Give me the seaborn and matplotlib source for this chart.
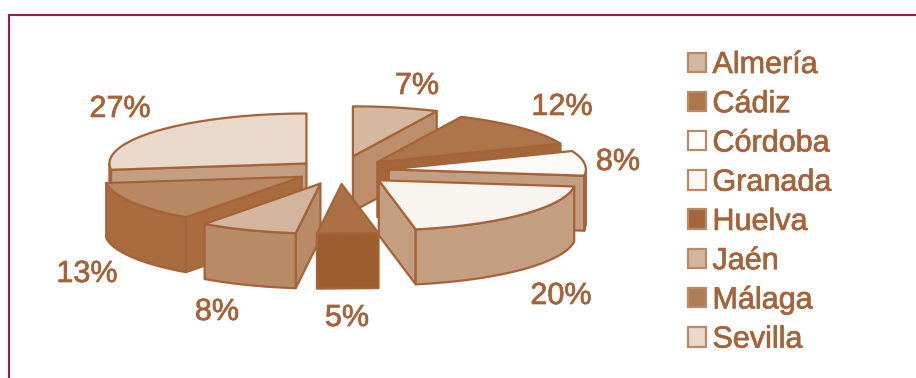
import numpy as np
import matplotlib
matplotlib.use("Agg")
import matplotlib.pyplot as plt
import matplotlib.patheffects as pe
from matplotlib.patches import Polygon, Patch
import seaborn as sns

# Share of each province, clockwise from twelve o'clock
provinces = ["Almería", "Cádiz", "Córdoba", "Granada", "Huelva", "Jaén", "Málaga", "Sevilla"]
shares = [7, 12, 8, 20, 5, 8, 13, 27]

explode = [0.3, 0.26, 0.25, 0.27, 0.26, 0.27, 0.226, 0.227]
top_colors = ["#D4B8A0", "#AD7549", "#FDFBF8", "#F8F4F0", "#AB7144", "#D3B59D", "#B88862", "#E8D9CB"]
side_colors = ["#BC8E6B", "#A5673A", "#C49E80", "#C49E80", "#9C5E2E", "#B88A66", "#A86C3E", "#C49E80"]
legend_colors = ["#D4B8A0", "#AD7549", "#FFFFFF", "#FBF8F5", "#A5673A", "#D3B59D", "#B07C55", "#E8D9CB"]

INK = "#A5633A"
FRAME = "#9A1B45"
FONT = "Liberation Sans"
FONT_SIZE = 22
CX, CY, RX, RY, DEPTH = 340, 171, 197, 50, 55

# Back-to-front painting order of the wedges
paint_order = [7, 0, 1, 2, 3, 6, 5, 4]
label_pos = [(417, 86), (562, 107), (618, 162), (561, 296), (347, 318), (217, 312), (87, 274), (120, 109)]


def rim(a0, a1, ox, oy):
    """Points on the projected circle between two clockwise angles in degrees."""
    # The narrowest wedge gets a straight front edge
    n = 2 if a1 - a0 <= 18.01 else 60
    t = np.radians(np.linspace(a0, a1, n))
    return np.column_stack([ox + RX * np.sin(t), oy - RY * np.cos(t)])


sns.set_theme(style="white")
plt.rcParams["font.family"] = [FONT, "DejaVu Sans"]

fig = plt.figure(figsize=(9.16, 3.78), dpi=100, facecolor="white")
ax = fig.add_axes([0, 0, 1, 1])
ax.set_xlim(0, 916)
ax.set_ylim(378, 0)
ax.axis("off")

# Thin frame on the top and left edges
ax.plot([8.5, 8.5, 916], [378, 14.5, 14.5], color=FRAME, lw=1.5, solid_joinstyle="miter")

edges = np.cumsum([0] + shares) * 3.6
style = dict(edgecolor=INK, linewidth=1.6, joinstyle="round")
heavier = [pe.withStroke(linewidth=0.5, foreground=INK)]

for i in paint_order:
    a0, a1 = edges[i], edges[i + 1]
    mid = np.radians((a0 + a1) / 2)
    ox = CX + RX * explode[i] * np.sin(mid)
    oy = CY - RY * explode[i] * np.cos(mid)
    apex = np.array([ox, oy])
    down = np.array([0, DEPTH])

    # Flat cut faces, only those turned toward the viewer
    for ang, visible in ((a0, np.sin(np.radians(a0)) < -1e-6), (a1, np.sin(np.radians(a1)) > 1e-6)):
        if visible:
            p = np.array([ox + RX * np.sin(np.radians(ang)), oy - RY * np.cos(np.radians(ang))])
            ax.add_patch(Polygon([apex, p, p + down, apex + down], facecolor=side_colors[i], **style))

    # Curved outer wall on the near half of the circle
    lo, hi = max(a0, 90), min(a1, 270)
    if lo < hi:
        arc = rim(lo, hi, ox, oy)
        ax.add_patch(Polygon(np.vstack([arc, (arc + down)[::-1]]), facecolor=side_colors[i], **style))

    # Top face
    ax.add_patch(Polygon(np.vstack([apex, rim(a0, a1, ox, oy)]), facecolor=top_colors[i], **style))

    ax.text(*label_pos[i], f"{shares[i]}%", color=INK, fontsize=FONT_SIZE, ha="center", va="center",
            path_effects=heavier)

handles = [Patch(facecolor=c, edgecolor="#B98A66", linewidth=1.6, label=n)
           for c, n in zip(legend_colors, provinces)]
legend = ax.legend(handles=handles, loc="upper left", bbox_to_anchor=(688 / 916, 1 - 50 / 378),
                   frameon=False, prop={"family": FONT, "size": FONT_SIZE}, labelcolor=INK,
                   handlelength=0.6, handleheight=0.6, handletextpad=0.2,
                   labelspacing=0.302, borderpad=0, borderaxespad=0)
for label in legend.get_texts():
    label.set_path_effects(heavier)

sns.despine(ax=ax, left=True, bottom=True)
fig.savefig("out.png", dpi=100, facecolor="white")
